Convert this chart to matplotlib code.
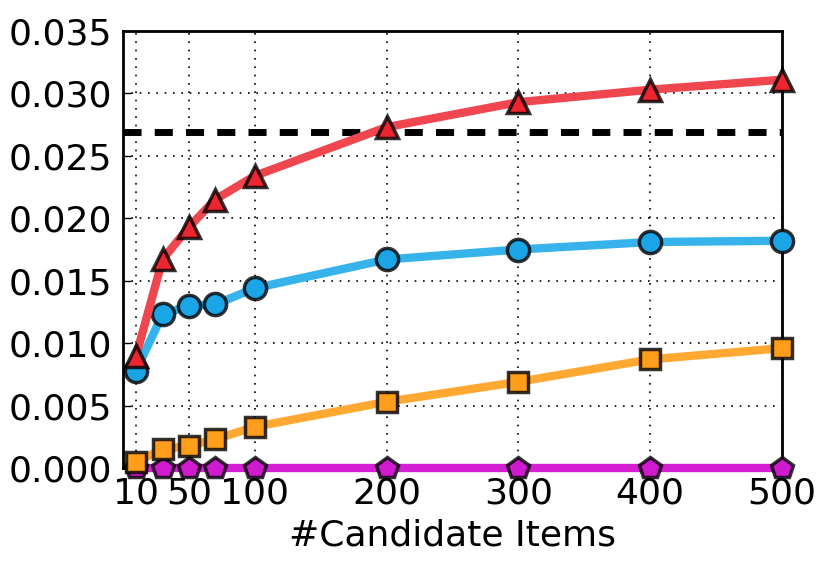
import matplotlib
matplotlib.use("Agg")
import matplotlib.pyplot as plt

x = [10, 30, 50, 70, 100, 200, 300, 400, 500]
red = [0.0090, 0.0167, 0.0193, 0.0215, 0.0234, 0.0273, 0.0293, 0.0303, 0.0311]
blue = [0.0078, 0.0123, 0.0130, 0.0131, 0.0144, 0.0167, 0.0175, 0.0181, 0.0182]
orange = [0.0005, 0.0015, 0.0018, 0.0023, 0.0033, 0.0053, 0.0069, 0.0087, 0.0096]
purple = [0.0, 0.0, 0.0, 0.0, 0.0, 0.0, 0.0, 0.0, 0.0]
baseline = 0.0269
xticks = [10, 50, 100, 200, 300, 400, 500]
yticks = [0.000, 0.005, 0.010, 0.015, 0.020, 0.025, 0.030, 0.035]

plt.rcParams['font.family'] = ['DejaVu Sans']
fig = plt.figure(figsize=(8.3, 5.71), dpi=100)
ax = fig.add_axes([123/830, 1-468/571, (782-123)/830, (468-31)/571])

common = dict(lw=6, mew=2.5, mec=(0, 0, 0, 0.8), clip_on=False, zorder=3)
ax.plot(x, purple, color='#d41fd4', marker='p', mfc='#d01ad0', ms=16, **common)
ax.plot(x, orange, color='#ffa832', marker='s', mfc='#ff9e1a', ms=14, **common)
ax.plot(x, blue, color='#35b3ea', marker='o', mfc='#1aa6e6', ms=16, **common)
ax.plot(x, red, color='#ef4650', marker='^', mfc='#ec2530', ms=16, **common)
ax.plot([0, 500], [baseline, baseline], color='black', lw=5, ls=(0, (2.6, 1.9)), zorder=2)

ax.set_xlim(0, 500)
ax.set_ylim(0, 0.035)
ax.set_xticks(xticks)
ax.set_yticks(yticks)
ax.set_yticklabels(['%.3f' % v for v in yticks])
ax.tick_params(labelsize=26, direction='in', length=6, width=1, top=False, right=False)
ax.tick_params(axis='x', pad=6)
ax.tick_params(axis='y', pad=8)
ax.grid(True, ls=(0, (1, 4)), color='black', lw=1.2)
for s in ax.spines.values():
    s.set_linewidth(2)
ax.set_xlabel('#Candidate Items', fontsize=26, labelpad=6)

fig.savefig('out.png', dpi=100)
